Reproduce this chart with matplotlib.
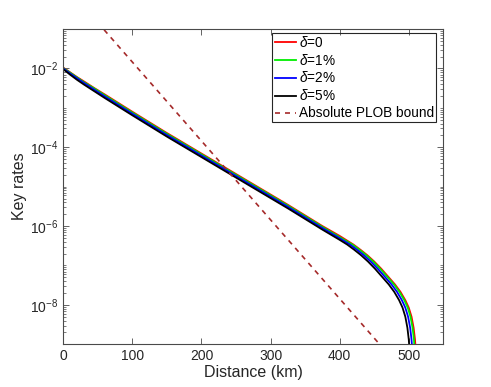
import matplotlib
matplotlib.use("Agg")
import matplotlib.pyplot as plt
from matplotlib.ticker import LogLocator, FixedLocator, NullFormatter, FuncFormatter
from matplotlib.lines import Line2D
from matplotlib.legend_handler import HandlerLine2D
from matplotlib.patches import Rectangle
from matplotlib.transforms import Bbox, IdentityTransform
import numpy as np

plt.rcParams['font.family'] = ['Liberation Sans', 'DejaVu Sans']
plt.rcParams['mathtext.fontset'] = 'custom'
plt.rcParams['mathtext.rm'] = 'Liberation Sans'
plt.rcParams['mathtext.it'] = 'Liberation Sans:italic'

# ---- data (rates as log10 values) ----
labels = [r'$\delta$=0', r'$\delta$=1%', r'$\delta$=2%', r'$\delta$=5%']
colors = ['red', '#00ee00', 'blue', 'black']

dist_d0 = [0, 10, 20, 30, 45, 60, 80, 100, 125, 150, 175, 200, 225, 250, 275, 300, 325, 350, 375, 400,
           420, 430, 440, 450, 460, 470, 480, 488, 495, 500, 504, 507, 509, 510.3, 511]
logr_d0 = [-1.98, -2.10, -2.22, -2.33, -2.50, -2.66, -2.88, -3.10, -3.37, -3.64, -3.90, -4.16, -4.42, -4.68,
           -4.94, -5.20, -5.46, -5.73, -6.00, -6.25,
           -6.47, -6.60, -6.74, -6.90, -7.08, -7.28, -7.48, -7.67, -7.88, -8.07, -8.30, -8.58, -8.88, -9.2, -9.5]

dist_d1 = [0, 10, 20, 30, 45, 60, 80, 100, 125, 150, 175, 200, 225, 250, 275, 300, 325, 350, 375, 400,
           418.5, 428.5, 438.5, 448.5, 458.5, 468.5, 478.5, 486.5, 493.5, 498.5, 502.5, 505.5, 507.5, 508.8, 509.5]
logr_d1 = [-1.99, -2.11, -2.23, -2.35, -2.51, -2.68, -2.90, -3.12, -3.39, -3.66, -3.92, -4.18, -4.44, -4.70,
           -4.96, -5.22, -5.48, -5.75, -6.02, -6.28,
           -6.47, -6.60, -6.74, -6.90, -7.08, -7.28, -7.48, -7.67, -7.88, -8.07, -8.30, -8.58, -8.88, -9.2, -9.5]

dist_d2 = [0, 10, 20, 30, 45, 60, 80, 100, 125, 150, 175, 200, 225, 250, 275, 300, 325, 350, 375, 400,
           415, 425, 435, 445, 455, 465, 475, 483, 490, 495, 499, 502, 504, 505.3, 506]
logr_d2 = [-2.00, -2.13, -2.25, -2.37, -2.54, -2.71, -2.93, -3.15, -3.42, -3.69, -3.95, -4.21, -4.47, -4.73,
           -4.99, -5.25, -5.51, -5.78, -6.05, -6.31,
           -6.47, -6.60, -6.74, -6.90, -7.08, -7.28, -7.48, -7.67, -7.88, -8.07, -8.30, -8.58, -8.88, -9.2, -9.5]

dist_d5 = [0, 10, 20, 30, 45, 60, 80, 100, 125, 150, 175, 200, 225, 250, 275, 300, 325, 350, 375, 400,
           411, 421, 431, 441, 451, 461, 471, 479, 486, 491, 495, 498, 500, 501.3, 502]
logr_d5 = [-2.02, -2.16, -2.29, -2.41, -2.58, -2.75, -2.97, -3.19, -3.46, -3.73, -3.99, -4.25, -4.51, -4.77,
           -5.03, -5.29, -5.55, -5.82, -6.09, -6.35,
           -6.47, -6.60, -6.74, -6.90, -7.08, -7.28, -7.48, -7.67, -7.88, -8.07, -8.30, -8.58, -8.88, -9.2, -9.5]

plob_dist = [40, 480]
plob_rate = [2.3e-1, 3.6e-10]

series = [(dist_d0, logr_d0), (dist_d1, logr_d1), (dist_d2, logr_d2), (dist_d5, logr_d5)]

# ---- figure ----
fig = plt.figure(figsize=(4.91, 3.87), dpi=100)
ax = fig.add_axes([0.1289, 0.1103, 0.7740, 0.8147])

for (d, lr), c, lab in zip(series, colors, labels):
    ax.plot(d, 10.0 ** np.array(lr), color=c, lw=1.3, label=lab)
ax.plot(plob_dist, plob_rate, color='#a52a2a', lw=1.2, dashes=(3, 3), label='Absolute PLOB bound')

ax.set_yscale('log')
ax.set_xlim(0, 550)
ax.set_ylim(1e-9, 1e-1)
ax.set_xticks([0, 100, 200, 300, 400, 500])
ax.yaxis.set_major_locator(FixedLocator([1e-8, 1e-6, 1e-4, 1e-2]))
ax.yaxis.set_major_formatter(FuncFormatter(lambda v, p: r'$10^{%d}$' % int(round(np.log10(v)))))
ax.yaxis.set_minor_locator(LogLocator(base=10, subs=np.arange(1, 10), numticks=30))
ax.yaxis.set_minor_formatter(NullFormatter())

ec = '#4a4a4a'
for s in ax.spines.values():
    s.set_color(ec)
    s.set_linewidth(0.8)
ax.tick_params(which='both', direction='in', top=True, right=True, colors=ec, labelcolor='#262626',
               labelsize=10)
ax.tick_params(which='major', length=4, width=0.6)
ax.tick_params(which='minor', length=2, width=0.5)

ax.set_xlabel('Distance (km)', fontsize=11.5, color='#262626', labelpad=1)
ax.set_ylabel('Key rates', fontsize=11.5, color='#262626', labelpad=2)

leg = ax.legend(loc='upper right', bbox_to_anchor=(0.9755, 0.9826), borderaxespad=0,
                fontsize=9.8, handlelength=1.55, handletextpad=0.2,
                labelspacing=0.22, borderpad=0.0, frameon=False,
                handler_map={Line2D: HandlerLine2D(marker_pad=0.0)})

# tight frame around the legend content
fig.canvas.draw()
renderer = fig.canvas.get_renderer()
bbs = [t.get_window_extent(renderer) for t in leg.get_texts()]
bbs += [l.get_window_extent(renderer) for l in leg.get_lines()]
u = Bbox.union(bbs)
x0, y0, x1, y1 = u.x0 - 3, u.y0 - 2, u.x1 + 1.5, u.y1 + 1.5
fig.add_artist(Rectangle((x0, y0), x1 - x0, y1 - y0, transform=IdentityTransform(),
                         fill=False, edgecolor='#262626', lw=0.8))

fig.savefig('out.png', dpi=100)
